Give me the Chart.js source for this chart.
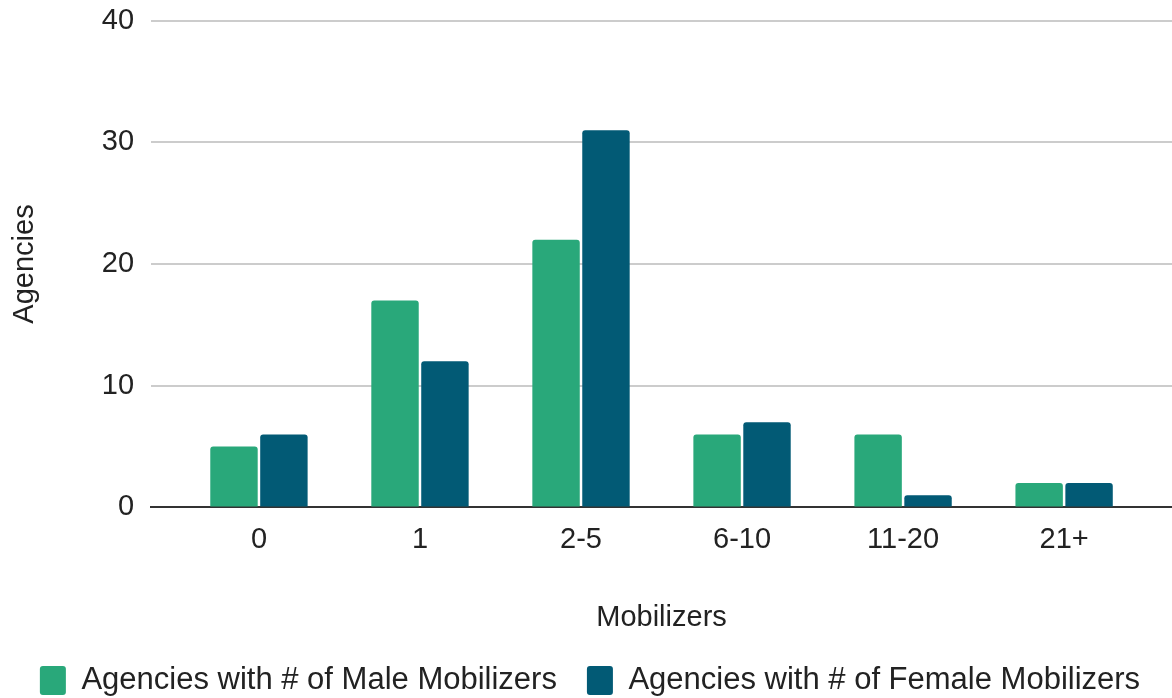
<!DOCTYPE html>
<html>
<head>
<meta charset="utf-8">
<script src="https://cdn.jsdelivr.net/npm/chart.js@4"></script>
<style>
  body { margin: 0; background: #fff; }
</style>
</head>
<body>
<canvas id="bar-chart" width="1172" height="698"></canvas>
<script>
const categories = ["0", "1", "2-5", "6-10", "11-20", "21+"];
const maleAgencies = [5, 17, 22, 6, 6, 2];
const femaleAgencies = [6, 12, 31, 7, 1, 2];
const yTicks = [0, 10, 20, 30, 40];

const textColor = "#222";
const fontFam = "'Liberation Sans', Arial, sans-serif";
const fontSize = 29;

new Chart(document.getElementById("bar-chart"), {
  type: 'bar',
  data: {
    datasets: [{
        label: "Agencies with # of Male Mobilizers",
        backgroundColor: "#29a87a",
        data: maleAgencies.map((v, i) => ({ x: i, y: v })),
        borderRadius: 3
      }, {
        label: "Agencies with # of Female Mobilizers",
        backgroundColor: "#025a75",
        data: femaleAgencies.map((v, i) => ({ x: i, y: v })),
        borderRadius: 3
      }
    ]
  },
  options: {
    responsive: false,
    animation: false,
    devicePixelRatio: 1,
    categoryPercentage: 0.62,
    barPercentage: 0.95,
    layout: { padding: { top: 0, right: 0, left: 8, bottom: -8 } },
    scales: {
      x: {
        type: 'linear',
        bounds: 'data',
        offset: false,
        min: -0.67,
        max: 5.67,
        grid: { display: false, drawTicks: false },
        border: { display: true, color: "#333", width: 2 },
        afterBuildTicks: axis => { axis.ticks = categories.map((c, i) => ({ value: i })); },
        ticks: {
          callback: v => categories[v],
          color: textColor,
          padding: 15,
          maxRotation: 0,
          autoSkip: false,
          font: { family: fontFam, size: fontSize }
        },
        title: {
          display: true,
          text: "Mobilizers",
          color: textColor,
          padding: { top: 28, bottom: 0 },
          font: { family: fontFam, size: fontSize }
        }
      },
      y: {
        min: 0,
        max: 40,
        afterBuildTicks: axis => { axis.ticks = yTicks.map(v => ({ value: v })); },
        grid: { color: "#cccccc", lineWidth: 2, drawTicks: false },
        border: { display: false },
        ticks: {
          color: textColor,
          padding: 17,
          font: { family: fontFam, size: fontSize, lineHeight: 0.25 }
        },
        title: {
          display: true,
          text: "Agencies",
          color: textColor,
          padding: { top: 0, bottom: 42 },
          font: { family: fontFam, size: fontSize }
        }
      }
    },
    plugins: {
      legend: {
        position: 'bottom',
        labels: {
          color: textColor,
          boxWidth: 26,
          boxHeight: 29,
          useBorderRadius: true,
          borderRadius: 3,
          padding: 30,
          font: { family: fontFam, size: 31 }
        }
      },
      tooltip: { enabled: false }
    }
  }
});
</script>
</body>
</html>
